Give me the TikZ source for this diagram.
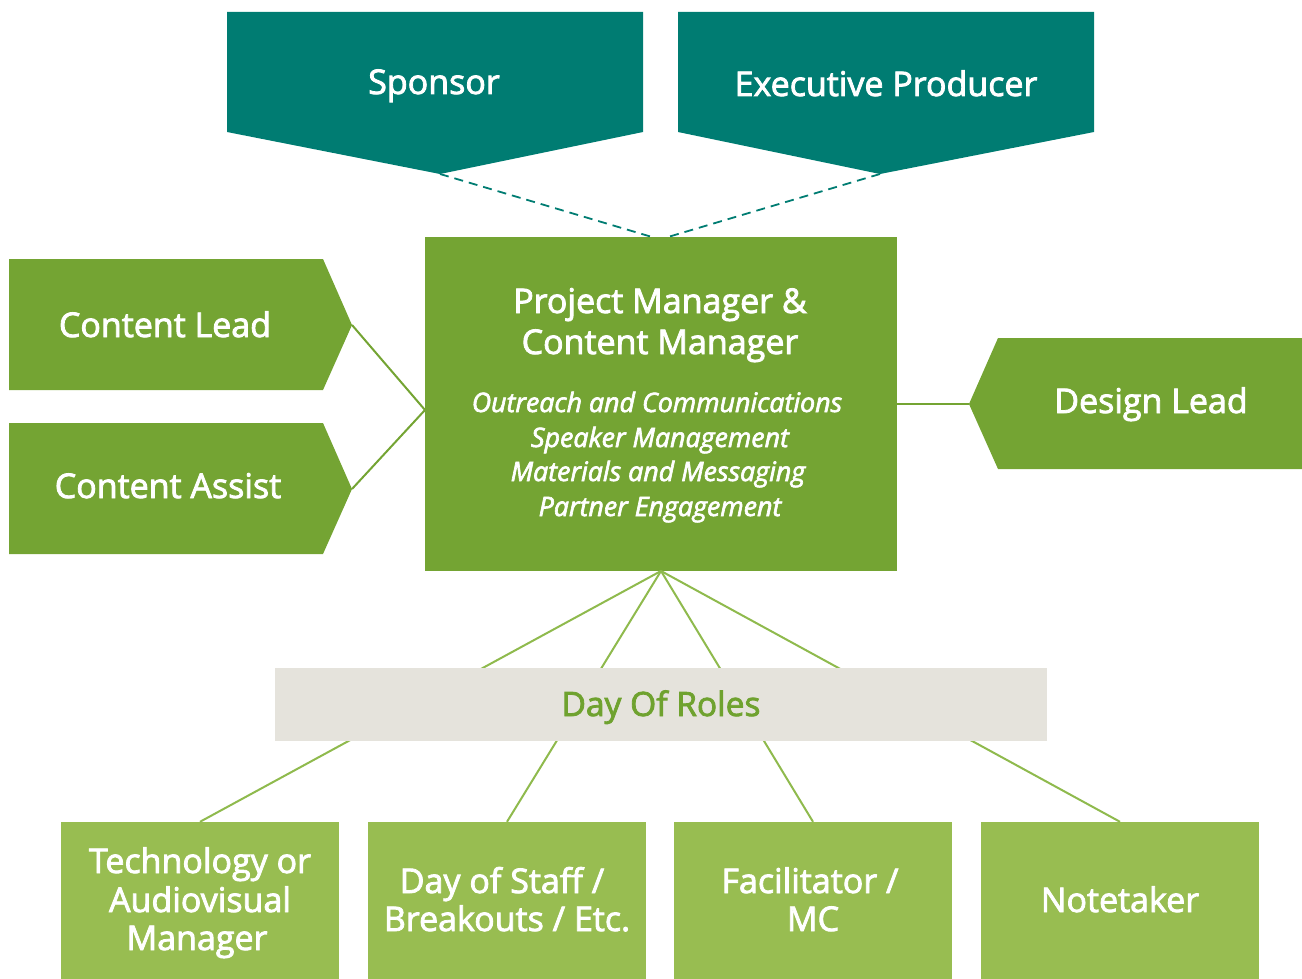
\documentclass[tikz,border=0pt]{standalone}
\usepackage{fontspec}
\setmainfont{Open Sans}
\newfontfamily\medfont[FakeBold=2.4]{Open Sans}
\definecolor{tealc}{HTML}{007C72}
\definecolor{pmgreen}{HTML}{74A433}
\definecolor{ltgreen}{HTML}{98BD51}
\definecolor{linegreen}{HTML}{8FBA4D}
\definecolor{barbg}{HTML}{E5E3DC}
\definecolor{bartext}{HTML}{6FA22F}
\tikzset{
  lbl/.style={text=white, anchor=base, inner sep=0pt, font=\medfont\fontsize{34}{39}\selectfont},
  itemlbl/.style={text=white, anchor=base, inner sep=0pt, font=\medfont\fontsize{26.8}{35}\selectfont\itshape},
  botlbl/.style={text=white, anchor=base, inner sep=0pt, font=\medfont\fontsize{34}{39}\selectfont},
  pmbox/.style={fill=pmgreen, inner sep=0pt, minimum width=472pt, minimum height=334pt},
  botbox/.style={fill=ltgreen, inner sep=0pt, minimum width=278pt, minimum height=157pt},
  barbox/.style={fill=barbg, inner sep=0pt, minimum width=772pt, minimum height=73pt},
  dashline/.style={draw=tealc, line width=1.8pt, dash pattern=on 9pt off 6pt},
  sideline/.style={draw=pmgreen, line width=2pt},
  downline/.style={draw=linegreen, line width=2pt}
}
\begin{document}
\begin{tikzpicture}[x=1pt,y=-1pt]
\useasboundingbox (0,0) rectangle (1302,979);
% top pentagons
\fill[tealc] (227,12) -- (643,12) -- (643,132) -- (440,174) -- (227,132) -- cycle;
\fill[tealc] (678,12) -- (1094,12) -- (1094,132) -- (880,174) -- (678,132) -- cycle;
\coordinate (spT) at (440,174);
\coordinate (epT) at (880,174);
\node[lbl] (sp) at (434,94) {Sponsor};
\node[lbl] (ep) at (886,96) {Executive Producer};
% central box
\node[pmbox] (pm) at (661,404) {};
\coordinate (pmTL) at (652,237);
\coordinate (pmTR) at (668,237);
\coordinate (pmL) at (425,410);
\coordinate (pmR) at (897,404);
\coordinate (pmB) at (661,571);
\draw[dashline] (spT) -- (pmTL);
\draw[dashline] (epT) -- (pmTR);
\node[lbl] (pm1) at (660,313) {Project Manager \&};
\node[lbl] (pm2) at (660,354) {Content Manager};
\node[itemlbl] (it1) at (657,412) {Outreach and Communications};
\node[itemlbl] (it2) at (660,447) {Speaker Management};
\node[itemlbl] (it3) at (658,481) {Materials and Messaging};
\node[itemlbl] (it4) at (660,516) {Partner Engagement};
% left pentagons
\fill[pmgreen] (9,259) -- (323,259) -- (352,325) -- (323,390) -- (9,390) -- cycle;
\fill[pmgreen] (9,423) -- (323,423) -- (352,489) -- (323,554) -- (9,554) -- cycle;
\coordinate (clP) at (352,325);
\coordinate (caP) at (352,489);
\node[lbl] (cl) at (165,337) {Content Lead};
\node[lbl] (ca) at (168,498) {Content Assist};
\draw[sideline] (clP) -- (pmL);
\draw[sideline] (caP) -- (pmL);
% design lead
\fill[pmgreen] (998,338) -- (1302,338) -- (1302,469) -- (998,469) -- (969,404) -- cycle;
\coordinate (dlP) at (969,404);
\node[lbl] (dl) at (1151,413) {Design Lead};
\draw[sideline] (pmR) -- (dlP);
% bottom boxes
\node[botbox] (b1) at (200,900.5) {};
\node[botbox] (b2) at (507,900.5) {};
\node[botbox] (b3) at (813,900.5) {};
\node[botbox] (b4) at (1120,900.5) {};
\draw[downline] (pmB) -- (b1.north);
\draw[downline] (pmB) -- (b2.north);
\draw[downline] (pmB) -- (b3.north);
\draw[downline] (pmB) -- (b4.north);
% bar
\node[barbox] (bar) at (661,704.5) {};
\node[anchor=base, inner sep=0pt, text=bartext, font=\medfont\fontsize{33.5}{39}\selectfont] (barl) at (661,716) {Day Of Roles};
% bottom labels
\node[botlbl] (t1a) at (200,873) {Technology or};
\node[botlbl] (t1b) at (200,912) {Audiovisual};
\node[botlbl] (t1c) at (197,950) {Manager};
\node[botlbl] (t2a) at (502,893) {Day of Staff /};
\node[botlbl] (t2b) at (507,931) {Breakouts / Etc.};
\node[botlbl] (t3a) at (810,893) {Facilitator /};
\node[botlbl] (t3b) at (813,931) {MC};
\node[botlbl] (t4) at (1120,912) {Notetaker};
\end{tikzpicture}
\end{document}
